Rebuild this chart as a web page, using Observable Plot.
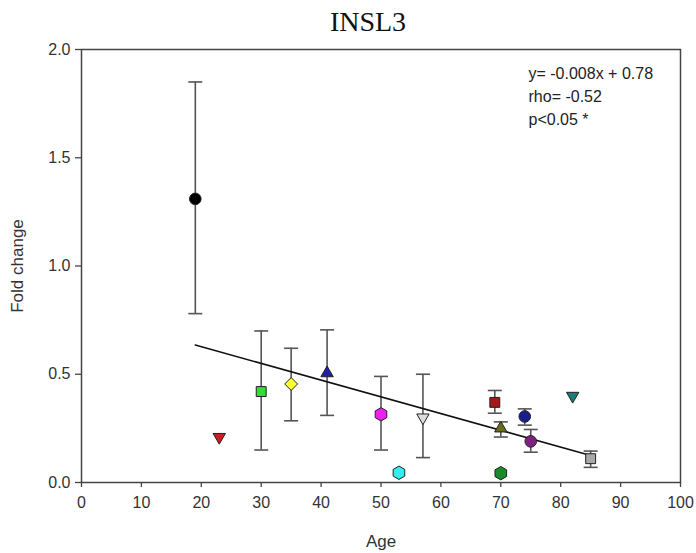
<!DOCTYPE html>
<html>
<head>
<meta charset="utf-8">
<script src="https://cdn.jsdelivr.net/npm/d3@7"></script>
<script src="https://cdn.jsdelivr.net/npm/@observablehq/plot@0.6"></script>
<style>
  html, body { margin: 0; padding: 0; background: #fff; }
  #wrap { width: 696px; height: 553px; }
  #title { height: 40px; line-height: 44px; text-align: center; font-family: "Liberation Serif", "Times New Roman", serif; font-size: 28px; color: #111; padding-left: 40px; box-sizing: border-box; }
  svg { display: block; }
  #chart g[aria-label$="tick label"] { font-size: 16px; fill: #333; }
  #chart g[aria-label$="axis label"] { font-size: 17px; fill: #333; }
  #chart g[aria-label="stats"] { font-size: 16px; }
</style>
</head>
<body>
<div id="wrap">
  <div id="title">INSL3</div>
  <div id="chart"></div>
</div>
<script>
// ---- data ----
const ages   = [19, 23, 30, 35, 41, 50, 53, 57, 69, 70, 70, 74, 75, 82, 85];
const folds  = [1.31, 0.21, 0.42, 0.455, 0.505, 0.315, 0.045, 0.30, 0.37, 0.25, 0.043, 0.305, 0.19, 0.40, 0.11];
const errLow = [0.78, null, 0.15, 0.285, 0.31, 0.15, null, 0.115, 0.32, 0.21, null, 0.265, 0.14, null, 0.07];
const errHigh= [1.85, null, 0.70, 0.62, 0.705, 0.49, null, 0.50, 0.425, 0.28, null, 0.34, 0.245, null, 0.145];
const shapes = ["circle","triangle","square","diamond2","triangle","hexagon","hexagon","triangle","square","triangle","hexagon","circle","circle","triangle","square"];
const flipped= [false, true, false, false, false, false, false, true, false, false, false, false, false, true, false];
const fills  = ["#000000","#cc1f1f","#33dd33","#ffff33","#1f1fa8","#ee22ee","#33eeee","#dddddd","#a01a1a","#6b6b20","#1a8a2a","#1a1f88","#802080","#1a7a7a","#a8a8a8"];
const fitAge = [19, 85];
const fitFold= [0.635, 0.125];
const xTicks = [0,10,20,30,40,50,60,70,80,90,100];
const yTicks = [0, 0.5, 1.0, 1.5, 2.0];
const statsText = ["y= -0.008x + 0.78", "rho= -0.52", "p<0.05 *"];

const sizeOf = {circle: 5.8, square: 5.6, diamond2: 5.8, triangle: 4.6, hexagon: 5.8};
const points = ages.map((a, i) => ({age: a, fold: folds[i], lo: errLow[i], hi: errHigh[i], shape: shapes[i], rot: flipped[i] ? 180 : 0, fill: fills[i], r: sizeOf[shapes[i]]}));
const bars = points.filter(d => d.lo != null);
const fit = fitAge.map((a, i) => ({age: a, fold: fitFold[i]}));

const capSymbol = { draw(ctx, size) { const w = 7; ctx.moveTo(-w, 0); ctx.lineTo(w, 0); } };

const chart = Plot.plot({
  width: 696,
  height: 513,
  marginLeft: 81,
  marginRight: 16,
  marginTop: 9,
  marginBottom: 71,
  style: { fontFamily: "'Liberation Sans', Arial, sans-serif", background: "#fff" },
  x: { domain: [0, 100] },
  y: { domain: [0, 2] },
  symbol: { type: "identity" },
  r: { type: "identity" },
  marks: [
    Plot.frame({ stroke: "#444", strokeWidth: 1.5 }),
    Plot.axisX({ ticks: xTicks, tickSize: 5, tickPadding: 9, label: "Age", labelAnchor: "center", labelOffset: 64, labelArrow: "none", stroke: "#444", strokeWidth: 1.3 }),
    Plot.axisY({ ticks: yTicks, tickFormat: d3.format(".1f"), tickSize: 6, tickPadding: 5, label: "Fold change", labelAnchor: "center", labelOffset: 71, labelArrow: "none", stroke: "#444", strokeWidth: 1.3 }),
    Plot.ruleX(bars, { x: "age", y1: "lo", y2: "hi", stroke: "#555", strokeWidth: 1.6 }),
    Plot.dot(bars, { x: "age", y: "lo", symbol: capSymbol, stroke: "#555", strokeWidth: 1.6, r: 7 }),
    Plot.dot(bars, { x: "age", y: "hi", symbol: capSymbol, stroke: "#555", strokeWidth: 1.6, r: 7 }),
    Plot.line(fit, { x: "age", y: "fold", stroke: "#111", strokeWidth: 1.6 }),
    Plot.dot(points, { x: "age", y: "fold", symbol: "shape", rotate: "rot", r: "r", fill: d => d.fill, stroke: "#222", strokeWidth: 1 }),
    Plot.text([statsText.join("\n")], { ariaLabel: "stats", frameAnchor: "top-right", text: d => d, textAnchor: "start", lineAnchor: "top", dx: -152, dy: 13, fontSize: 16, lineHeight: 1.45, fill: "#222" })
  ]
});
document.getElementById("chart").appendChild(chart);
</script>
</body>
</html>
